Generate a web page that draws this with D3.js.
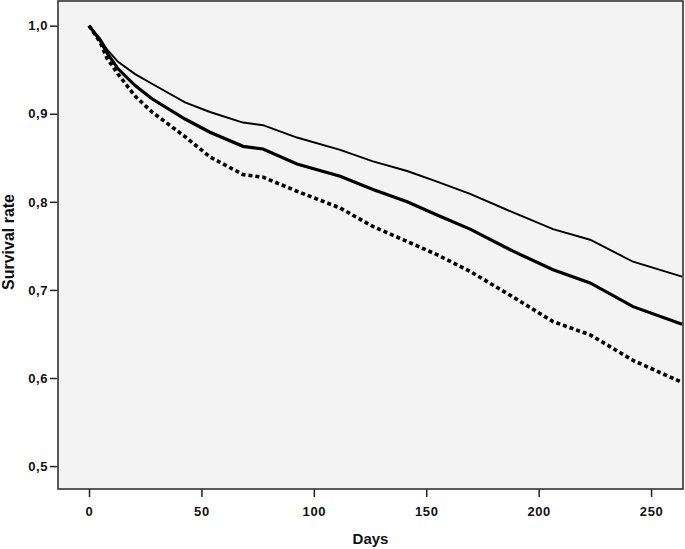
<!DOCTYPE html>
<html>
<head>
<meta charset="utf-8">
<script src="https://cdn.jsdelivr.net/npm/d3@7"></script>
<style>
  html, body { margin: 0; padding: 0; background: #ffffff; }
  svg { display: block; font-family: "Liberation Sans", Arial, sans-serif; }
</style>
</head>
<body>
<svg id="chart" width="685" height="549"></svg>
<script>
// ---- Data ----
const days = [0, 5, 8, 12.9, 20.5, 28, 42.7, 53.8, 68.5, 77.4, 92.5, 111.7, 126.3, 141.5, 154.8, 169.5, 188.6, 206.4, 222.9, 242, 263.8];
const seriesTop    = [1.0, 0.985, 0.973, 0.959, 0.945, 0.934, 0.913, 0.902, 0.890, 0.887, 0.873, 0.859, 0.846, 0.835, 0.823, 0.809, 0.788, 0.769, 0.757, 0.732, 0.715];
const seriesMiddle = [1.0, 0.983, 0.969, 0.951, 0.932, 0.917, 0.894, 0.879, 0.863, 0.860, 0.843, 0.829, 0.814, 0.800, 0.785, 0.769, 0.744, 0.723, 0.708, 0.681, 0.661];
const seriesBottom = [1.0, 0.981, 0.963, 0.945, 0.920, 0.902, 0.874, 0.851, 0.831, 0.828, 0.812, 0.793, 0.772, 0.755, 0.740, 0.721, 0.692, 0.664, 0.649, 0.620, 0.595];
const xTicks = [0, 50, 100, 150, 200, 250];
const yTicks = [0.5, 0.6, 0.7, 0.8, 0.9, 1.0];
const xTitle = "Days";
const yTitle = "Survival rate";

// ---- Layout ----
const svg = d3.select("#chart");
const plot = { left: 58, right: 683, top: 1, bottom: 489 };

const x = d3.scaleLinear().domain([-13.8, 264.2]).range([plot.left, plot.right]);
const y = d3.scaleLinear().domain([0.474, 1.028]).range([plot.bottom, plot.top]);

// plot background
svg.append("rect")
  .attr("x", plot.left).attr("y", plot.top)
  .attr("width", plot.right - plot.left).attr("height", plot.bottom - plot.top)
  .attr("fill", "#f3f3f3");

svg.append("clipPath").attr("id", "clip")
  .append("rect")
  .attr("x", plot.left).attr("y", plot.top)
  .attr("width", plot.right - plot.left).attr("height", plot.bottom - plot.top);

const fmt = d => d3.format(".1f")(d).replace(".", ",");

// axes
const yAxis = svg.append("g")
  .attr("transform", `translate(${plot.left},0)`)
  .call(d3.axisLeft(y).tickValues(yTicks).tickFormat(fmt).tickSize(8).tickPadding(2));
const xAxis = svg.append("g")
  .attr("transform", `translate(0,${plot.bottom})`)
  .call(d3.axisBottom(x).tickValues(xTicks).tickFormat(d3.format("d")).tickSize(8).tickPadding(10));

[yAxis, xAxis].forEach(g => {
  g.select(".domain").remove();
  g.selectAll(".tick line").attr("stroke", "#222").attr("stroke-width", 1.5);
  g.selectAll(".tick text").attr("fill", "#111").attr("font-size", 13).attr("font-weight", "bold")
    .attr("letter-spacing", 0.6);
});

// lines
const line = d3.line().x((d, i) => x(days[i])).y(d => y(d));
const g = svg.append("g").attr("clip-path", "url(#clip)");

g.append("path").datum(seriesBottom)
  .attr("d", line).attr("fill", "none").attr("stroke", "#000")
  .attr("stroke-width", 3.6).attr("stroke-dasharray", "4,3");
g.append("path").datum(seriesMiddle)
  .attr("d", line).attr("fill", "none").attr("stroke", "#000")
  .attr("stroke-width", 3.2);
g.append("path").datum(seriesTop)
  .attr("d", line).attr("fill", "none").attr("stroke", "#000")
  .attr("stroke-width", 1.9);

// frame
svg.append("rect")
  .attr("x", plot.left).attr("y", plot.top)
  .attr("width", plot.right - plot.left).attr("height", plot.bottom - plot.top)
  .attr("fill", "none").attr("stroke", "#333").attr("stroke-width", 1.6);

// titles
svg.append("text")
  .attr("x", (plot.left + plot.right) / 2).attr("y", 544)
  .attr("text-anchor", "middle").attr("font-size", 15).attr("font-weight", "bold").attr("fill", "#111")
  .text(xTitle);
svg.append("text")
  .attr("transform", `translate(14,242) rotate(-90)`)
  .attr("text-anchor", "middle").attr("font-size", 16).attr("font-weight", "bold").attr("fill", "#111")
  .text(yTitle);
</script>
</body>
</html>
